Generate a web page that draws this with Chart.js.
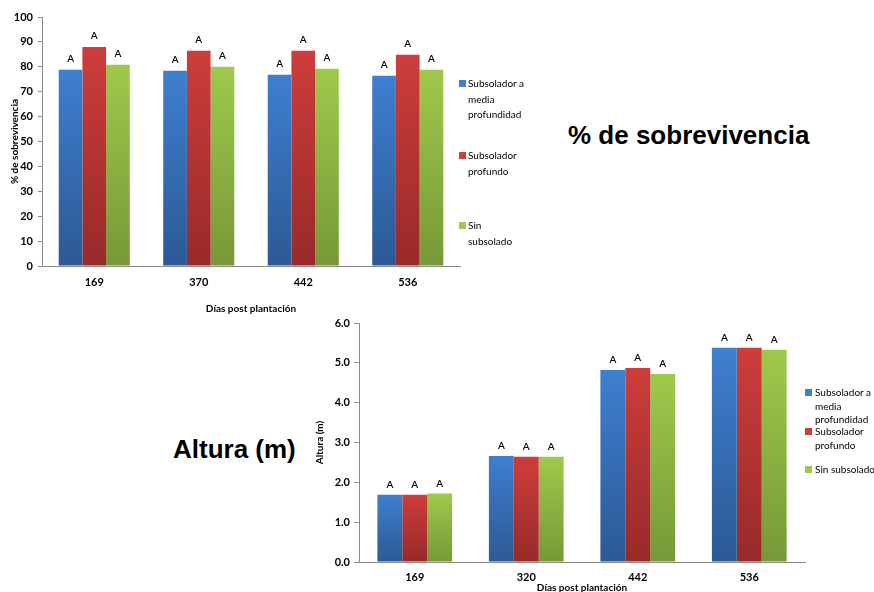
<!DOCTYPE html>
<html>
<head>
<meta charset="utf-8">
<script src="https://cdn.jsdelivr.net/npm/chart.js@4.4.1/dist/chart.umd.min.js"></script>
<style>
	body { margin: 0; width: 874px; height: 592px; overflow: hidden; background: #fff; position: relative;
		font-family: Lato, 'Open Sans', sans-serif; color: #000; }
	.wrap { position: absolute; }
	#wrap1 { left: 0; top: 0; width: 470px; height: 320px; }
	#wrap2 { left: 300px; top: 310px; width: 520px; height: 290px; }
	.big { position: absolute; font: bold 26px 'Liberation Sans', Arial, sans-serif; line-height: 30px; white-space: nowrap; }
	.leg { position: absolute; font-size: 10px; white-space: nowrap; }
	.sw { position: absolute; width: 7px; height: 7px; }
</style>
</head>
<body>
<div class="wrap" id="wrap1"><canvas id="chart1"></canvas></div>
<div class="wrap" id="wrap2"><canvas id="chart2"></canvas></div>
<div class="big" style="left:568px; top:120px">% de sobrevivencia</div>
<div class="big" style="left:173px; top:434px">Altura (m)</div>
<div id="legends"></div>
<script>
// ── Data ────────────────────────────────────────────────────────────────────

const SERIES = ['Subsolador a media profundidad', 'Subsolador profundo', 'Sin subsolado']

// sobrevivencia (%)
const DAYS_1 = ['169', '370', '442', '536']
const SURV_MEDIA = [78.8, 78.4, 76.8, 76.4]
const SURV_PROF = [88.0, 86.4, 86.4, 84.8]
const SURV_SIN = [80.8, 80.0, 79.2, 78.8]

// altura (m)
const DAYS_2 = ['169', '320', '442', '536']
const ALT_MEDIA = [1.69, 2.66, 4.82, 5.38]
const ALT_PROF = [1.69, 2.64, 4.87, 5.38]
const ALT_SIN = [1.72, 2.64, 4.72, 5.33]

// letras de significancia sobre cada barra
const LETTERS = ['A', 'A', 'A', 'A']

// ── Styles ──────────────────────────────────────────────────────────────────

const FONT = "Lato, 'Open Sans', sans-serif"
const AXIS = '#8a8a8a'
const FILLS = [
	['#3e7fd0', '#2c5994'],
	['#cd3d3b', '#972a29'],
	['#9fc94b', '#779837'],
]

Chart.defaults.font.family = FONT
Chart.defaults.color = '#000'

// gradient per bar, from its top to the baseline
function barFill(i) {
	const [top, bottom] = FILLS[i]
	return ctx => {
		const chart = ctx.chart
		const y = chart.scales.y
		if (!chart.chartArea || !y || !ctx.parsed) return top
		const y0 = y.getPixelForValue(ctx.parsed.y)
		const y1 = y.getPixelForValue(0)
		if (!isFinite(y0) || !isFinite(y1) || y1 - y0 < 1) return top
		const g = chart.ctx.createLinearGradient(0, y0, 0, y1)
		g.addColorStop(0, top)
		g.addColorStop(1, bottom)
		return g
	}
}

const lettersPlugin = {
	id: 'letters',
	afterDatasetsDraw(chart, args, opts) {
		const ctx = chart.ctx
		ctx.save()
		ctx.font = opts.font
		ctx.fillStyle = '#000'
		ctx.textAlign = 'center'
		ctx.textBaseline = 'middle'
		chart.data.datasets.forEach((ds, i) => {
			chart.getDatasetMeta(i).data.forEach((bar, j) => {
				ctx.fillText(ds.letters[j], bar.x, bar.y - opts.offset)
			})
		})
		ctx.restore()
	},
}

function datasets(values, catPct) {
	return values.map((vals, i) => ({
		label: SERIES[i],
		data: vals,
		letters: LETTERS,
		backgroundColor: barFill(i),
		borderWidth: 0,
		categoryPercentage: catPct,
		barPercentage: 1.0,
	}))
}

function makeChart(id, cfg) {
	return new Chart(document.getElementById(id), {
		type: 'bar',
		data: { labels: cfg.labels, datasets: datasets(cfg.values, cfg.catPct) },
		plugins: [lettersPlugin],
		options: {
			responsive: true,
			maintainAspectRatio: false,
			animation: false,
			layout: { padding: cfg.padding },
			plugins: {
				legend: { display: false },
				tooltip: { enabled: false },
				letters: { font: '600 10px ' + FONT, offset: cfg.letterOffset },
			},
			scales: {
				x: {
					grid: { display: false, drawTicks: false },
					border: { display: true, color: AXIS, width: 1 },
					ticks: { padding: cfg.xPad, font: { size: 11, weight: 'bold' } },
					title: { display: true, text: 'Días post plantación', font: { size: 10, weight: 'bold' },
						padding: { top: 0, bottom: cfg.xTitlePad } },
					afterFit: s => { s.height = cfg.xHeight },
				},
				y: {
					min: 0,
					max: cfg.max,
					ticks: { stepSize: cfg.step, padding: cfg.yPad, font: { size: 11, weight: 'bold' },
						callback: cfg.fmt },
					grid: { drawOnChartArea: false, drawTicks: true, tickLength: cfg.tickLen, color: AXIS },
					border: { display: true, color: AXIS, width: 1 },
					title: { display: true, text: cfg.yTitle, font: { size: 10, weight: 'bold' },
						padding: { top: cfg.yTitlePad, bottom: 0 } },
					afterFit: s => { s.width = cfg.yWidth },
				},
			},
		},
	})
}

makeChart('chart1', {
	labels: DAYS_1,
	values: [SURV_MEDIA, SURV_PROF, SURV_SIN],
	catPct: 0.68,
	padding: { top: 17, right: 10, bottom: 0, left: 0 },
	max: 100, step: 10, fmt: v => v,
	yTitle: '% de sobrevivencia',
	yWidth: 42, yPad: 5, tickLen: 4, yTitlePad: 9,
	xHeight: 54, xPad: 10, xTitlePad: 5,
	letterOffset: 11,
})

makeChart('chart2', {
	labels: DAYS_2,
	values: [ALT_MEDIA, ALT_PROF, ALT_SIN],
	catPct: 0.67,
	padding: { top: 13, right: 15, bottom: 0, left: 0 },
	max: 6, step: 1, fmt: v => v.toFixed(1),
	yTitle: 'Altura (m)',
	yWidth: 59, yPad: 4, tickLen: 5, yTitlePad: 14,
	xHeight: 38, xPad: 9, xTitlePad: 6,
	letterOffset: 10,
})

// ── Legends ─────────────────────────────────────────────────────────────────

const LEGEND_1 = [['Subsolador a', 'media', 'profundidad'], ['Subsolador', 'profundo'], ['Sin', 'subsolado']]
const LEGEND_2 = [['Subsolador a', 'media', 'profundidad'], ['Subsolador', 'profundo'], ['Sin subsolado']]

function legend(lines, sx, tx, tops, lh) {
	const host = document.getElementById('legends')
	lines.forEach((item, i) => {
		const sw = document.createElement('div')
		sw.className = 'sw'
		sw.style.left = sx + 'px'
		sw.style.top = tops[i] + lh / 2 - 3.5 + 'px'
		sw.style.background = FILLS[i][0]
		host.appendChild(sw)
		const t = document.createElement('div')
		t.className = 'leg'
		t.style.left = tx + 'px'
		t.style.top = tops[i] + 'px'
		t.style.lineHeight = lh + 'px'
		t.innerHTML = item.join('<br>')
		host.appendChild(t)
	})
}

legend(LEGEND_1, 459, 468, [76, 148, 218], 15.5)
legend(LEGEND_2, 805, 815, [386, 425, 463], 13.5)
</script>
</body>
</html>
